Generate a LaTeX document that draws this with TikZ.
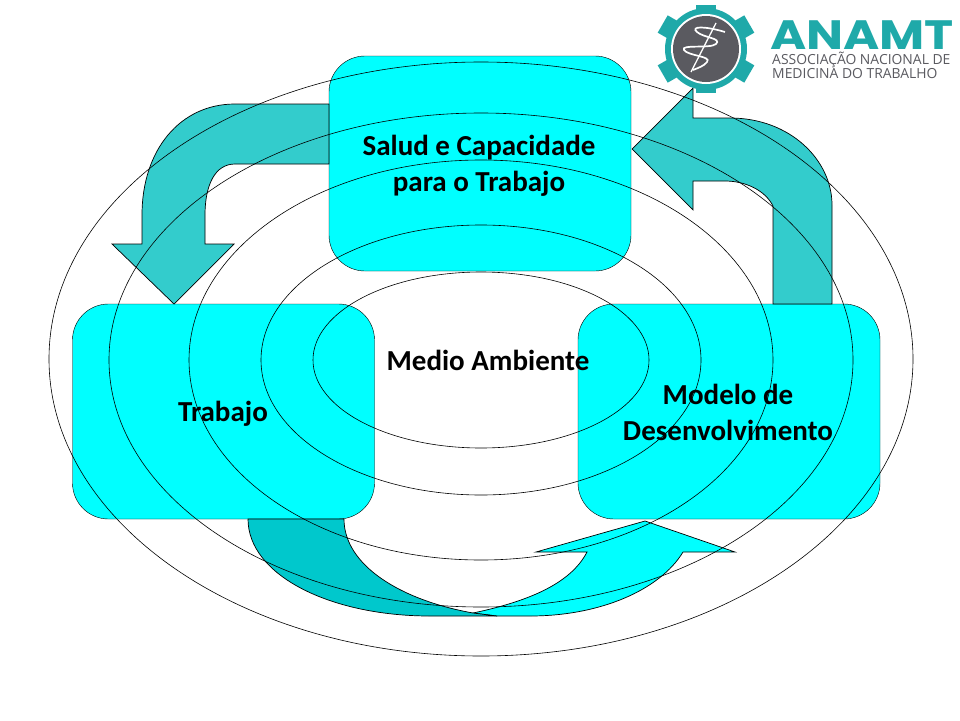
\documentclass[tikz,border=0pt]{standalone}
\usepackage{fontspec}
\usetikzlibrary{shapes.geometric}
\setmainfont{Carlito}
\newfontfamily\logobig[FakeStretch=1.2]{Poppins}
\newfontfamily\logosmall{Open Sans}
\definecolor{boxcyan}{HTML}{00FFFF}
\definecolor{arrowteal}{HTML}{33CCCC}
\definecolor{arrowdark}{HTML}{00C8CC}
\definecolor{logoteal}{HTML}{1FA9A9}
\definecolor{logogray}{HTML}{5A5A60}
\tikzset{
  roundbox/.style = {draw, fill = boxcyan, rounded corners = 36pt, minimum width = 302pt, minimum height = 215pt, inner sep = 0pt},
  ring/.style = {draw, ellipse, line width = 0.6pt, inner sep = 0pt},
  bentarrow/.style = {draw, line width = 0.7pt, line join = miter},
  label/.style = {font = \fontsize{29}{36}\selectfont\bfseries, align = center},
}
\begin{document}
\begin{tikzpicture}[x = 1pt, y = -1pt]
\useasboundingbox (0,0) rectangle (960,720);
\fill[white] (0,0) rectangle (960,720);
\node[roundbox] (salud) at (480,163.5) {};
\node[roundbox] (trabajo) at (223.5,411.5) {};
\node[roundbox] (modelo) at (729,411.5) {};
% bent arrows
\draw[bentarrow, fill = arrowteal] (329,104) -- (235,104) .. controls (180,104) and (142,150) .. (142,215) -- (142,244) -- (112,244) -- (174,304) -- (234,244) -- (205,244) -- (205,215) .. controls (205,185) and (215,164) .. (235,164) -- (329,164) -- cycle;
\draw[bentarrow, fill = arrowteal] (773,304) -- (773,206) .. controls (765,190) and (745,181) .. (725,181) -- (693,181) -- (693,210) -- (632,149) -- (693,88) -- (693,118) -- (730,118) .. controls (790,118) and (832,160) .. (832,205) -- (832,304) -- cycle;
\draw[bentarrow, fill = boxcyan] (473,613) .. controls (525,602) and (570,585) .. (587,552) -- (536,552) -- (645,521) -- (735,552) -- (683,552) .. controls (660,590) and (600,616) .. (530,616) -- (497,616) -- cycle;
\draw[bentarrow, fill = arrowdark] (248,519) .. controls (248,575) and (330,616) .. (430,616) -- (497,616) -- (473,613) .. controls (400,600) and (344,565) .. (344,519) -- cycle;
% rings
\node[ring, minimum width = 864pt, minimum height = 594pt] (ringa) at (481,359) {};
\node[ring, minimum width = 744pt, minimum height = 494pt] (ringb) at (481,360) {};
\node[ring, minimum width = 584pt, minimum height = 400pt] (ringc) at (481,360) {};
\node[ring, minimum width = 440pt, minimum height = 270pt] (ringd) at (481,360) {};
\node[ring, minimum width = 336pt, minimum height = 176pt] (ringe) at (481,360) {};
% labels
\node[label] (saludtext) at (479,166) {Salud e Capacidade\\para o Trabajo};
\node[label] (trabajotext) at (223,414) {Trabajo};
\node[label] (modelotext) at (728,412) {Modelo de\\Desenvolvimento};
\node[label] (medio) at (488,360) {Medio Ambiente};
% logo
\foreach \a/\r in {0/44,60/50,120/50,180/44,240/50,300/50}
  \fill[logoteal, rotate around = {\a:(706,49)}] (696,49-\r) rectangle (716,49-30);
\fill[logoteal] (706,49) circle (41);
\fill[white] (706,49) circle (35);
\fill[logogray] (706,49) circle (33);
\draw[white, line width = 1.3pt] (716,23) -- (691,72);
\draw[white, line width = 1.7pt] (725,32) .. controls (705,26) and (690,26) .. (697,32) .. controls (704,38) and (722,38) .. (716,44) .. controls (710,49) and (680,44) .. (684,50) .. controls (688,56) and (712,56) .. (707,62) .. controls (704,66) and (698,68) .. (693,70);
\node[font = \logobig\fontsize{41}{41}\selectfont\bfseries, text = logoteal, inner sep = 0pt, anchor = west] (anamt) at (770,35) {ANAMT};
\node[font = \logosmall\fontsize{13.9}{14}\selectfont, text = logogray, inner sep = 0pt, anchor = north west, align = left] (assoc) at (772,52) {ASSOCIAÇÃO NACIONAL DE\\MEDICINA DO TRABALHO};
\end{tikzpicture}
\end{document}
